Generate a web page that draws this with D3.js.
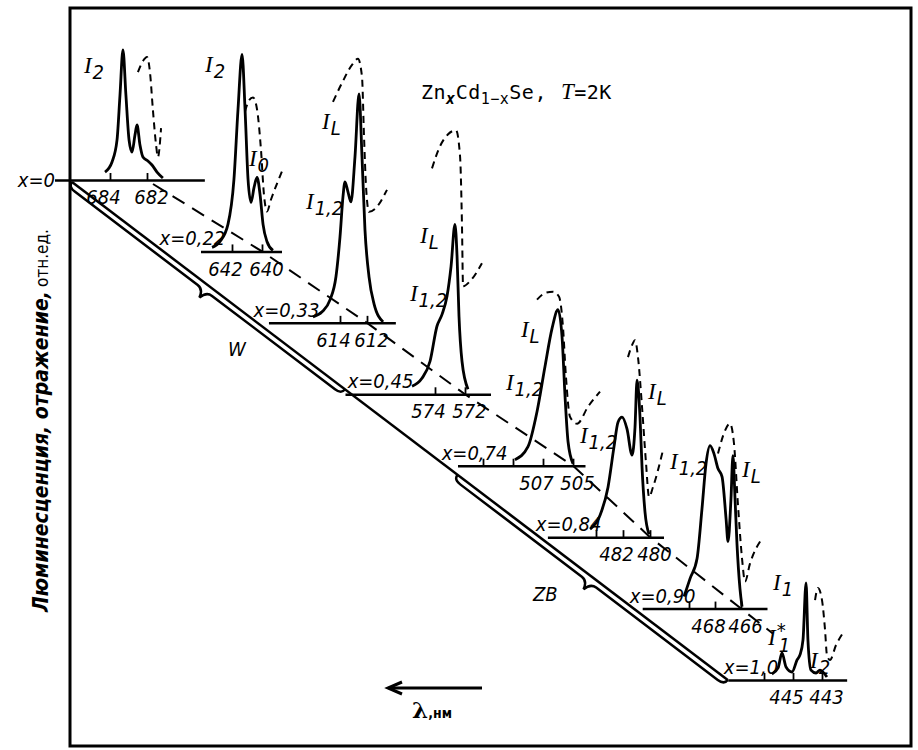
<!DOCTYPE html>
<html><head><meta charset="utf-8">
<script src="https://cdn.jsdelivr.net/npm/d3@7"></script>
<style>
body{margin:0;background:#fff}
text{fill:#000}
.lbl{font-family:"Liberation Sans Narrow","DejaVu Sans Condensed",sans-serif;font-style:italic;font-size:20px}
</style>
</head><body><svg id="c" width="918" height="750"></svg>
<script>
// ---------------- data ----------------
const compositions = ["x=0","x=0,22","x=0,33","x=0,45","x=0,74","x=0,84","x=0,90","x=1,0"];
const labeledTicksNm = [[684,682],[642,640],[614,612],[574,572],[507,505],[482,480],[468,466],[445,443]];
const tickLabels = [["684","682"],["642","640"],["614","612"],["574","572"],["507","505"],["482","480"],["468","466"],["445","443"]];
const tickMarksNm = [[684,682],[642,640],[614,612],[574,572],[511,509,507,505],[484,482,480],[470,468,466],[447,445,443]];
const windowsNm = [[687.0,678.9],[644.1,638.7],[619.3,609.9],[580.0,570.3],[512.7,504.2],[487.6,479.0],[473.6,464.0],[449.5,441.3]];

// luminescence (solid) : [wavelength nm, intensity rel.u.]
const lumX0   = [[684.27,5.7],[683.89,12.9],[683.62,28.6],[683.46,60.7],[683.30,92.9],[683.14,60.7],[682.97,28.6],[682.81,20],[682.65,32.1],[682.54,39.3],[682.38,25],[682.22,16.4],[681.95,13.6],[681.73,10.7],[681.46,5.7],[681.14,1.4]];
const lumX022 = [[643.33,2.9],[642.8,7.1],[642.27,19.3],[641.87,51.4],[641.6,101.4],[641.33,140.7],[641.13,101.4],[640.93,51.4],[640.73,35],[640.53,45.7],[640.33,52.9],[640.13,40.7],[639.93,19.3],[639.67,7.1],[639.27,0.7]];
const lumX033 = [[616.0,4.3],[615.33,7.9],[614.74,16.4],[614.3,32.9],[614.0,61.4],[613.78,90],[613.63,100.7],[613.41,93.6],[613.19,86.4],[612.89,118.6],[612.59,163.6],[612.37,118.6],[612.15,66.4],[611.85,32.9],[611.48,13.6],[610.81,0.7]];
const lumX045 = [[575.53,5.7],[574.87,11.4],[574.33,23.6],[573.87,48.6],[573.53,57.1],[573.2,70],[572.93,91.4],[572.67,121.4],[572.53,98.6],[572.4,55.7],[572.2,23.6],[571.8,3.6]];
const lumX074 = [[508.87,4.3],[508.0,13.6],[507.4,38.6],[506.87,70.7],[506.4,97.9],[506.0,111.4],[505.73,92.1],[505.53,49.3],[505.33,17.1],[505.0,1.4]];
const lumX084 = [[484.44,5.7],[483.7,15.7],[483.11,35.7],[482.67,64.3],[482.37,82.1],[482.07,85.7],[481.7,77.1],[481.33,58.6],[481.11,78.6],[480.96,112.1],[480.74,85.7],[480.59,50],[480.37,17.9],[480.07,2.1]];
const lumX090 = [[470.38,8.6],[469.92,21.4],[469.38,35.7],[469.0,71.4],[468.69,103.6],[468.38,116.4],[468.08,110.7],[467.77,100],[467.46,94.3],[467.15,64.3],[467.0,47.9],[466.77,78.6],[466.62,109.3],[466.46,78.6],[466.31,46.4],[466.08,14.3],[465.92,1.4]];
const lumX100 = [[446.45,4.3],[446.03,8.6],[445.76,19.3],[445.48,9.3],[445.07,5.7],[444.72,14.3],[444.52,17.9],[444.31,28.6],[444.1,69.3],[443.97,28.6],[443.76,7.1],[443.41,5],[443.14,7.1],[442.66,2.1]];

// reflection (dashed)
const refX0   = [[682.49,77.1],[682.22,85],[682.0,87.9],[681.84,77.1],[681.68,50],[681.51,25],[681.41,16.4],[681.24,37.1]];
const refX022 = [[641.13,100],[640.87,107.9],[640.6,110],[640.33,101.4],[640.07,72.9],[639.87,40.7],[639.67,28.6],[639.4,37.1],[638.67,57.1]];
const refX033 = [[614.52,157.9],[613.85,171.4],[613.11,184.3],[612.67,188.6],[612.37,175.7],[612.22,132.9],[612.07,97.1],[611.85,79.3],[611.41,81.4],[610.52,95]];
const refX045 = [[574.2,161.4],[573.67,177.1],[573.13,185.7],[572.6,188.6],[572.33,170],[572.2,120],[572.13,77.1],[571.67,80.7],[570.87,93.6]];
const refX074 = [[507.4,118.6],[506.8,123.6],[506.33,124.3],[505.93,120.7],[505.67,99.3],[505.47,63.6],[505.2,35],[504.73,30],[504.0,42.1],[503.2,52.9]];
const refX084 = [[481.63,128.6],[481.33,137.1],[481.11,140.7],[480.89,128.6],[480.59,92.9],[480.3,53.6],[480.07,28.6],[479.78,35.7],[479.04,62.1]];
const refX090 = [[467.77,110.7],[467.23,127.1],[466.85,132.1],[466.54,117.9],[466.23,73.6],[465.92,35.7],[465.69,19.3],[465.31,32.1],[464.38,50]];
const refX100 = [[443.48,57.1],[443.28,65.7],[443.0,57.1],[442.79,35.7],[442.66,17.9],[442.45,14.3],[442.03,25],[441.55,33.6]];

const luminescence = [lumX0,lumX022,lumX033,lumX045,lumX074,lumX084,lumX090,lumX100];
const reflection   = [refX0,refX022,refX033,refX045,refX074,refX084,refX090,refX100];

// peak labels: panel, subscript, superscript, anchor [nm, intensity]
const peakPanel = [0,1,1,2,2,3,3,4,4,5,5,6,6,7,7,7];
const peakSub   = ["2","2","0","L","1,2","L","1,2","L","1,2","L","1,2","1,2","L","1","1","2"];
const peakSup   = ["","","","","","","","","","","","","","","*",""];
const peakAt    = [[685.41,76.4],[643.8,127.9],[640.87,60.7],[615.33,138.6],[616.52,81.4],[575.0,107.9],[575.67,66.4],[508.47,92.1],[509.47,54.3],[480.15,98.6],[485.19,67.1],[471.46,100],[465.92,94.3],[446.38,64],[446.72,25],[443.83,8.6]];

const titleParts = ["Zn","x","Cd","1−x","Se,"];
const regionLabels = ["W","ZB"];
const yAxisTitle = ["Люминесценция, отражение,","отн.ед."];
const xAxisTitle = ["λ",",нм"];

// ---------------- layout ----------------
const svg = d3.select("#c");
const frame = {x:70, y:8, w:841, h:738};
const labeledTickPx = [[110,147],[232,262],[340,367],[435,465],[543,573],[623,650],[715,741],[793,822]];
const tickLabelShift = [-7,4];
const baseY = d3.scalePoint().domain(compositions).range([180,680]);

const panels = compositions.map((c,i)=>{
  const lin = d3.scaleLinear().domain(labeledTicksNm[i]).range(labeledTickPx[i]);
  const x = d3.scaleLinear().domain(windowsNm[i]).range(windowsNm[i].map(lin));
  const b = baseY(c);
  const y = d3.scaleLinear().domain([0,100]).range([b, b-140]);
  return {c,i,x,y,b};
});

// frame
svg.append("rect").attr("x",frame.x).attr("y",frame.y).attr("width",frame.w).attr("height",frame.h)
  .attr("fill","none").attr("stroke","#000").attr("stroke-width",3);

// diagonal (W / ZB)
const O = [frame.x+2, panels[0].b+2];
const E = [panels[7].x(windowsNm[7][0]), panels[7].b];
const mainY = d3.scaleLinear().domain([O[0],E[0]]).range([O[1],E[1]]);
const len = Math.hypot(E[0]-O[0],E[1]-O[1]);
const u = [(E[0]-O[0])/len,(E[1]-O[1])/len];
const n = [-u[1],u[0]];
const add=(p,a,v)=>[p[0]+a*v[0],p[1]+a*v[1]];
svg.append("path").attr("d",d3.line()([O,E])).attr("stroke","#000").attr("stroke-width",2.5).attr("fill","none");
function brace(S,T,d){
  const M=[(S[0]+T[0])/2,(S[1]+T[1])/2];
  const p=d3.path();
  p.moveTo(...S);
  p.quadraticCurveTo(...add(S,d,n), ...add(add(S,d,n),8,u));
  p.lineTo(...add(add(M,d,n),-9,u));
  p.quadraticCurveTo(...add(add(M,d,n),-2,u), ...add(M,d+9,n));
  p.quadraticCurveTo(...add(add(M,d,n),2,u), ...add(add(M,d,n),9,u));
  p.lineTo(...add(add(T,d,n),-8,u));
  p.quadraticCurveTo(...add(T,d,n), ...T);
  return p.toString();
}
const wEndX = panels[3].x(windowsNm[3][0]);
const zStartX = panels[4].x(windowsNm[4][0]);
const braceW = brace(O,[wEndX,mainY(wEndX)],6);
const braceZ = brace([zStartX,mainY(zStartX)],E,6);
[braceW,braceZ].forEach(d=>svg.append("path").attr("d",d).attr("stroke","#000").attr("stroke-width",2.5).attr("fill","none"));
svg.append("text").attr("class","lbl").attr("x",228).attr("y",356).attr("font-size",23).text(regionLabels[0]);
svg.append("text").attr("class","lbl").attr("x",533).attr("y",601).attr("font-size",23).text(regionLabels[1]);

// dashed connecting line through right ticks
const dashPts = panels.slice(0,7).map(p=>[p.x(labeledTicksNm[p.i][1]), p.b]);
const last = dashPts[6], prev = dashPts[5];
dashPts.push([last[0]+(last[0]-prev[0])*0.35, last[1]+(last[1]-prev[1])*0.35]);
dashPts[0] = [dashPts[0][0]+6, dashPts[0][1]+4];
svg.append("path").attr("d",d3.line()(dashPts)).attr("stroke","#000").attr("stroke-width",2)
  .attr("stroke-dasharray","14,9").attr("fill","none");

// panels
panels.forEach(p=>{
  const g = svg.append("g").attr("transform",`translate(0,${p.b})`);
  const ax = d3.axisBottom(p.x).tickValues(tickMarksNm[p.i]).tickSizeInner(-7).tickSizeOuter(0).tickPadding(10)
    .tickFormat(d=>{const k=labeledTicksNm[p.i].indexOf(d);return k>=0?tickLabels[p.i][k]:"";});
  g.call(ax);
  g.select(".domain").attr("stroke","#000").attr("stroke-width",2.5);
  g.selectAll(".tick line").attr("stroke","#000").attr("stroke-width",1.8);
  g.selectAll(".tick text").attr("class","lbl").attr("font-size",22).attr("font-family",null)
    .attr("dx",d=>{const k=labeledTicksNm[p.i].indexOf(d);return k>=0?tickLabelShift[k]:0;});
  const line = d3.line().x(d=>p.x(d[0])).y(d=>p.y(d[1])).curve(d3.curveMonotoneX);
  svg.append("path").attr("d",line(luminescence[p.i])).attr("fill","none").attr("stroke","#000").attr("stroke-width",2.8);
  svg.append("path").attr("d",line(reflection[p.i])).attr("fill","none").attr("stroke","#000").attr("stroke-width",2)
    .attr("stroke-dasharray","7,5");
  // composition label
  if(p.i===0){
    svg.append("text").attr("class","lbl").attr("font-size",22).attr("x",frame.x-15).attr("y",p.b+7).attr("text-anchor","end").text(p.c);
  } else {
    const ty = p.b-6;
    const tx = mainY.invert(ty)+4;
    svg.append("text").attr("class","lbl").attr("font-size",21).attr("x",tx).attr("y",ty).text(p.c);
  }
});

// peak labels
peakPanel.forEach((pi,k)=>{
  const p = panels[pi];
  const t = svg.append("text").attr("x",p.x(peakAt[k][0])).attr("y",p.y(peakAt[k][1]));
  t.append("tspan").attr("font-family","Liberation Serif,serif").attr("font-style","italic").attr("font-size",23).text("I");
  if(peakSup[k]){
    t.append("tspan").attr("class","lbl").attr("font-size",14).attr("dx",1).attr("dy",-8).text(peakSup[k]);
    t.append("tspan").attr("class","lbl").attr("font-size",14).attr("dx",-7).attr("dy",15).text(peakSub[k]);
  } else {
    t.append("tspan").attr("class","lbl").attr("font-size",16).attr("dx",1).attr("dy",6).text(peakSub[k]);
  }
});

// title
const tt = svg.append("text").attr("x",421).attr("y",99).attr("font-family","DejaVu Sans Mono,monospace").attr("font-size",20).attr("letter-spacing",0.5);
tt.append("tspan").text(titleParts[0]);
tt.append("tspan").attr("font-size",15).attr("font-style","italic").attr("font-weight","bold").attr("dy",5).text(titleParts[1]);
tt.append("tspan").attr("dy",-5).text(titleParts[2]);
tt.append("tspan").attr("font-size",15).attr("dy",5).text(titleParts[3]);
tt.append("tspan").attr("dy",-5).text(titleParts[4]);
tt.append("tspan").attr("dx",14).attr("font-family","Liberation Serif,serif").attr("font-style","italic").attr("font-size",23).text("T");
tt.append("tspan").text("=2K");

// x arrow
svg.append("line").attr("x1",482).attr("y1",688).attr("x2",389).attr("y2",688).attr("stroke","#000").attr("stroke-width",3);
svg.append("path").attr("d",d3.line()([[402,682],[388,688],[402,694]])).attr("fill","none").attr("stroke","#000").attr("stroke-width",3);
const xt = svg.append("text").attr("x",412).attr("y",718);
xt.append("tspan").attr("font-family","DejaVu Serif,serif").attr("font-weight","bold").attr("font-size",23).text(xAxisTitle[0]);
xt.append("tspan").attr("font-family","DejaVu Sans Condensed,sans-serif").attr("font-weight","bold").attr("font-size",14).text(xAxisTitle[1]);

// y axis title
const yt = svg.append("text").attr("transform","translate(48,612) rotate(-90)").attr("class","lbl");
yt.append("tspan").attr("font-size",21).attr("font-weight","bold").text(yAxisTitle[0]);
yt.append("tspan").attr("font-size",17).attr("font-style","normal").attr("dx",4).text(yAxisTitle[1]);
</script>
</body></html>
